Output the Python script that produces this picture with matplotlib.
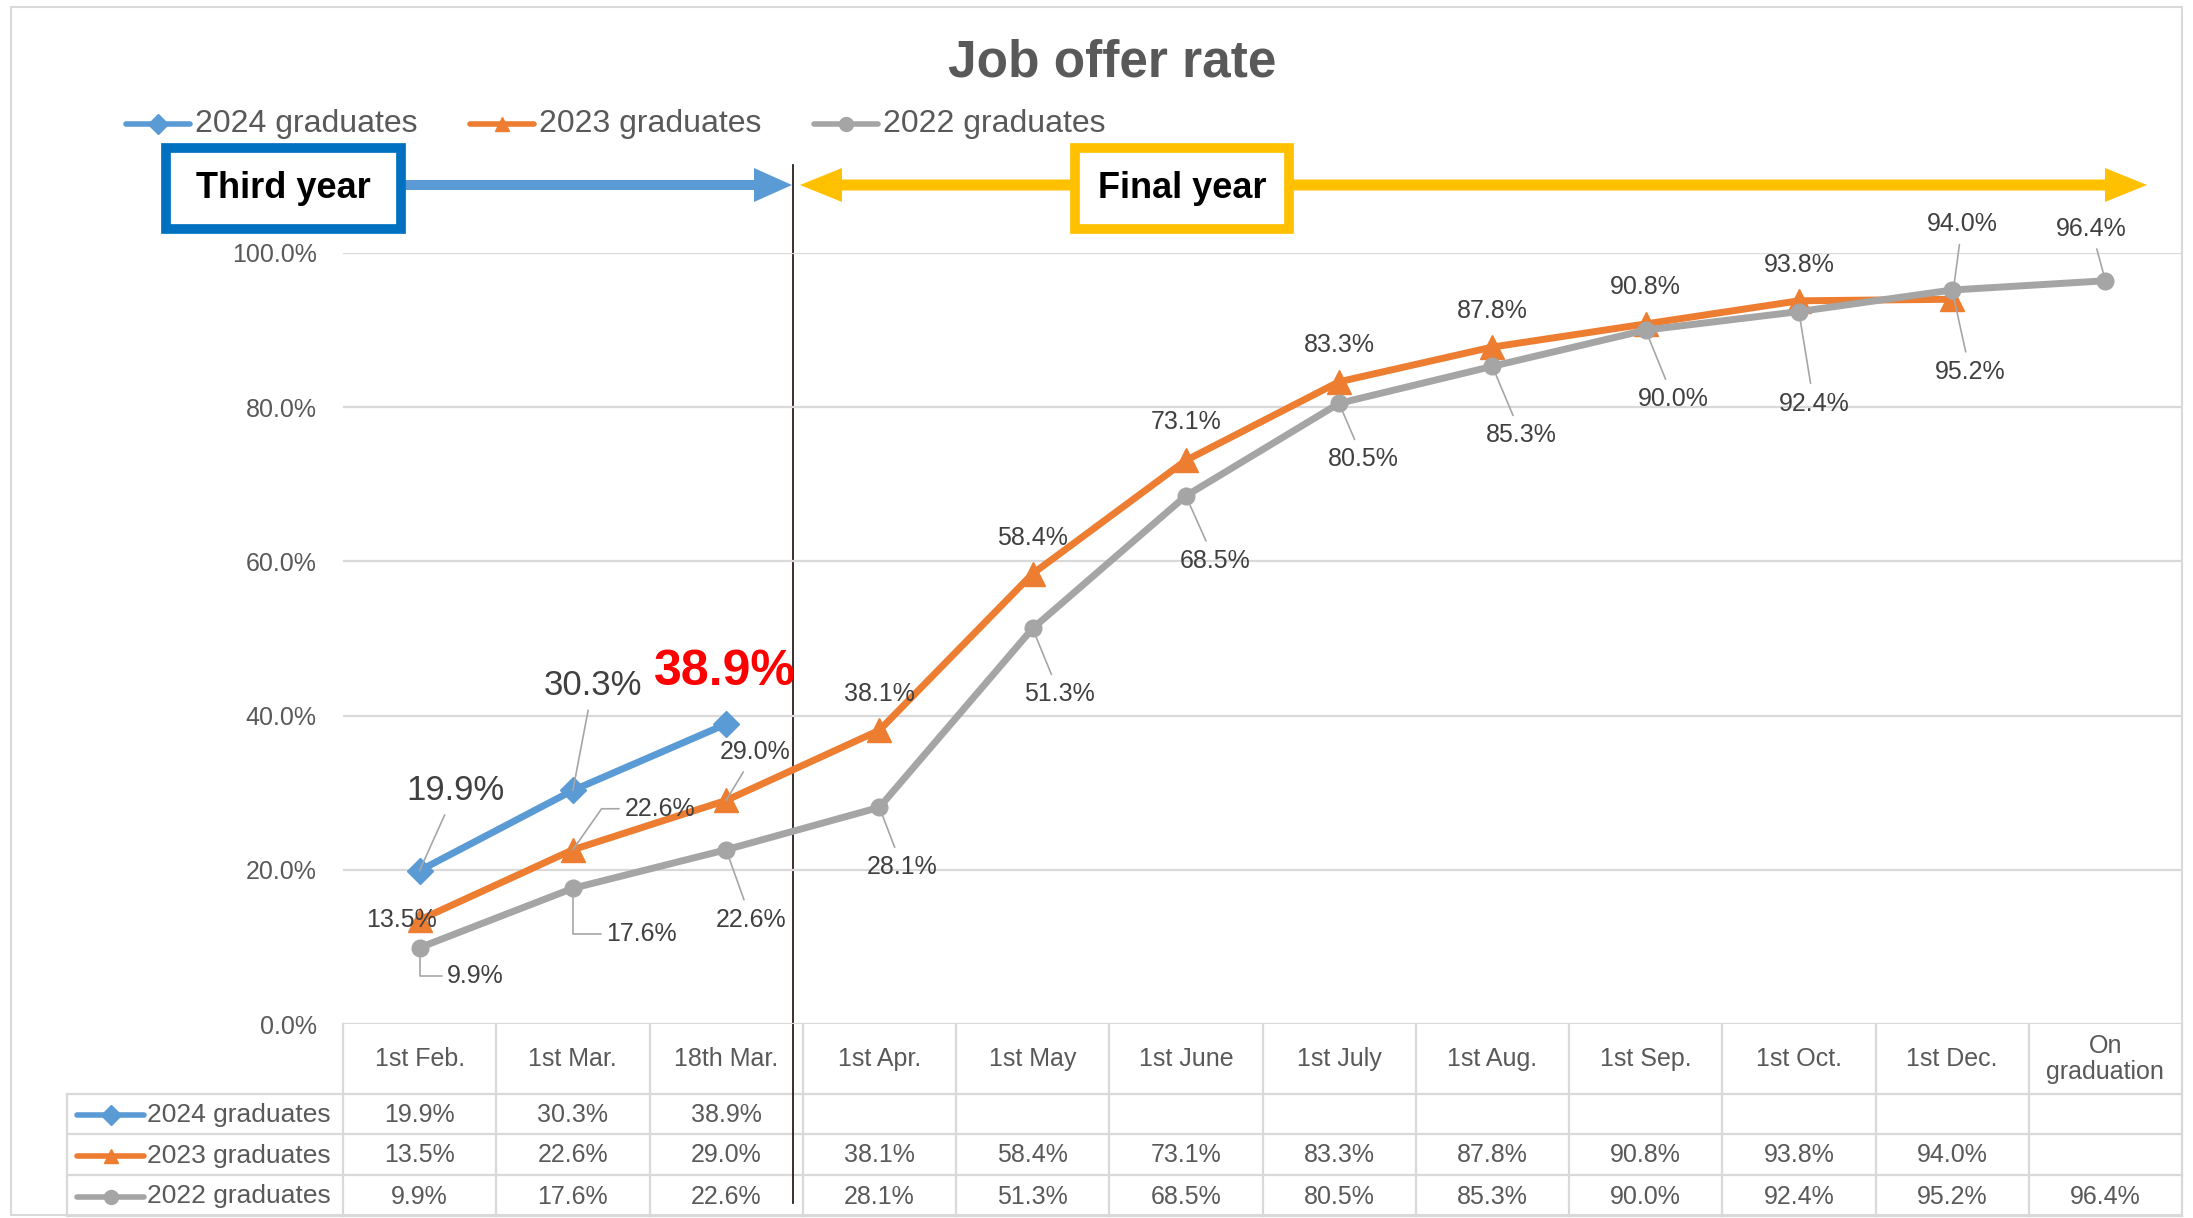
import numpy as np
import matplotlib
matplotlib.use('Agg')
import matplotlib.pyplot as plt
from matplotlib import transforms
from matplotlib.patches import FancyArrow, Rectangle

plt.rcParams['font.family'] = ['Liberation Sans', 'DejaVu Sans']

# data
dates = ['1st Feb.', '1st Mar.', '18th Mar.', '1st Apr.', '1st May', '1st June',
         '1st July', '1st Aug.', '1st Sep.', '1st Oct.', '1st Dec.', 'On\ngraduation']
names = ['2024 graduates', '2023 graduates', '2022 graduates']
g2024 = [19.9, 30.3, 38.9]
g2023 = [13.5, 22.6, 29.0, 38.1, 58.4, 73.1, 83.3, 87.8, 90.8, 93.8, 94.0]
g2022 = [9.9, 17.6, 22.6, 28.1, 51.3, 68.5, 80.5, 85.3, 90.0, 92.4, 95.2, 96.4]
series = [g2024, g2023, g2022]

# styles
colors = ['#5B9BD5', '#ED7D31', '#A5A5A5']
markers = ['D', '^', 'o']
msizes = [13, 17, 12]
txt_c = '#595959'
lab_c = '#404040'
grid_c = '#D9D9D9'
lead_c = '#A6A6A6'

# label offsets in pixels (dx, dy up) and leader kind
lab_2024 = [(36, 80, 'line'), (20, 105, 'line'), (-1, 52, None)]
lab_2023 = [(-18, 0, None), (87, 41, 'bend'), (29, 48, 'line'), (0, 36, None),
            (0, 36, None), (0, 38, None), (0, 37, None), (0, 36, None),
            (0, 37, None), (0, 36, None), (10, 75, 'line')]
lab_2022 = [(56, -28, 'elbow'), (69, -46, 'elbow'), (25, -70, 'line'), (23, -60, 'line'),
            (27, -66, 'line'), (29, -65, 'line'), (24, -56, 'line'), (29, -69, 'line'),
            (28, -69, 'line'), (15, -92, 'line'), (18, -82, 'line'), (-14, 52, 'line')]
labs = [lab_2024, lab_2023, lab_2022]

W, H = 2193, 1218
fig = plt.figure(figsize=(W / 100, H / 100), dpi=100)
ov = fig.add_axes([0, 0, 1, 1])
ov.set_xlim(0, W)
ov.set_ylim(H, 0)
ov.autoscale(False)
ov.axis('off')

ax = fig.add_axes([343 / W, (H - 1024) / H, (2182 - 343) / W, (1024 - 253) / H])
ax.patch.set_visible(False)

for vals, c, m, ms in zip(series, colors, markers, msizes):
    ax.plot(np.arange(len(vals)), vals, color=c, lw=5, marker=m, ms=ms,
            clip_on=False, zorder=3)

ax.set_xlim(-0.5, len(dates) - 0.5)
ax.set_ylim(0, 100)
yt = np.arange(0, 101, 20)
ax.set_yticks(yt)
ax.set_yticklabels([f'{v:.1f}%' for v in yt], fontsize=18, color=txt_c)
ax.tick_params(axis='y', length=0, pad=19)
ax.set_xticks([])
for s in ax.spines.values():
    s.set_visible(False)
ax.grid(axis='y', color=grid_c, lw=1.6)
ax.set_axisbelow(True)

# data labels
for k, (vals, lab) in enumerate(zip(series, labs)):
    for i, (v, (dx, dy, kind)) in enumerate(zip(vals, lab)):
        size, col, wt = 18, lab_c, 'normal'
        if k == 0:
            size = 25
            if i == len(vals) - 1:
                size, col, wt = 36, '#FF0000', 'bold'
        ap = None
        if kind == 'line':
            ap = dict(arrowstyle='-', color=lead_c, lw=1.2, shrinkA=4, shrinkB=0)
        elif kind == 'elbow':
            ap = dict(arrowstyle='-', color=lead_c, lw=1.2, shrinkA=2, shrinkB=0,
                      relpos=(0, 0.5), connectionstyle='angle,angleA=0,angleB=90,rad=0')
        elif kind == 'bend':
            ap = dict(arrowstyle='-', color=lead_c, lw=1.2, shrinkA=2, shrinkB=0,
                      relpos=(0, 0.5), connectionstyle='angle,angleA=0,angleB=55,rad=0')
        ax.annotate(f'{v:.1f}%', xy=(i, v), xytext=(dx, dy), textcoords='offset pixels',
                    ha='center', va='center', fontsize=size, color=col, fontweight=wt,
                    arrowprops=ap, zorder=5)

# data table below the chart
bt = transforms.blended_transform_factory(ax.transData, ov.transData)
row_y = [1024, 1094, 1134, 1175, 1216]
for i in range(len(dates) + 1):
    ov.plot([i - 0.5, i - 0.5], [row_y[0], row_y[-1]], transform=bt, color=grid_c, lw=1.6)
for y in row_y[1:]:
    ov.plot([67, 2182], [y, y], color=grid_c, lw=1.6)
ov.plot([67, 67], [row_y[1], row_y[-1]], color=grid_c, lw=1.6)

for i, d in enumerate(dates):
    ov.text(i, (row_y[0] + row_y[1]) / 2, d, transform=bt, ha='center', va='center',
            fontsize=18, color=txt_c, linespacing=1.15)

for r, (vals, name, c, m) in enumerate(zip(series, names, colors, markers)):
    yc = (row_y[r + 1] + row_y[r + 2]) / 2 + 1
    ov.plot([77, 144], [yc, yc], color=c, lw=4, solid_capstyle='round')
    ov.plot([110.5], [yc], marker=m, color=c, ms=10)
    ov.text(147, yc, name, ha='left', va='center', fontsize=19, color=txt_c)
    for i, v in enumerate(vals):
        ov.text(i, yc, f'{v:.1f}%', transform=bt, ha='center', va='center',
                fontsize=18, color=txt_c)

# legend
for x0, name, c, m in zip([126, 470, 814], names, colors, markers):
    ov.plot([x0, x0 + 64], [124, 124], color=c, lw=4, solid_capstyle='round')
    ov.plot([x0 + 32], [124], marker=m, color=c, ms=10)
    ov.text(x0 + 69, 124, name, ha='left', va='center', fontsize=23, color=txt_c)

# title
ov.text(1112, 63, 'Job offer rate', ha='center', va='center', fontsize=37,
        fontweight='bold', color=txt_c)

# period arrows and boxes
ay = 185
ov.add_patch(FancyArrow(401, ay, 792 - 401, 0, width=10, head_width=34, head_length=38,
                        length_includes_head=True, color='#5B9BD5', lw=0, zorder=2))
for tip in [800, 2147]:
    ov.add_patch(FancyArrow(1182, ay, tip - 1182, 0, width=11, head_width=34,
                            head_length=42, length_includes_head=True, color='#FFC000',
                            lw=0, zorder=2))
ov.add_patch(Rectangle((166, 148), 235, 81, facecolor='white', edgecolor='#0070C0',
                       lw=7, zorder=3))
ov.text(283.5, 189, 'Third year', ha='center', va='center', fontsize=26,
        fontweight='bold', color='black', zorder=4)
ov.add_patch(Rectangle((1075, 148), 214, 81, facecolor='white', edgecolor='#FFC000',
                       lw=7, zorder=3))
ov.text(1182, 189, 'Final year', ha='center', va='center', fontsize=26,
        fontweight='bold', color='black', zorder=4)

# divider between third and final year
ov.plot([793, 793], [165, 1203], color='#2B1F1A', lw=1.3, zorder=4)

# outer frame
ov.add_patch(Rectangle((11, 7), 2171, 1208, fill=False, edgecolor=grid_c, lw=1.5))

fig.savefig('out.png', dpi=100)
